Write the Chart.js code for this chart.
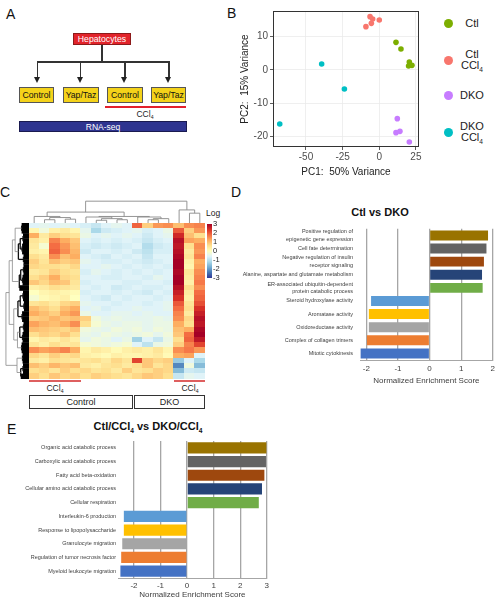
<!DOCTYPE html>
<html>
<head>
<meta charset="utf-8">
<script src="https://cdn.jsdelivr.net/npm/chart.js@4.4.1/dist/chart.umd.min.js"></script>
<style>
  body { margin: 0; background: #fff; }
  #page { position: relative; width: 499px; height: 600px; overflow: hidden; font-family: "Liberation Sans", Arial, sans-serif; color: #222; }
  .abs { position: absolute; }
  .letter { position: absolute; font-size: 14px; line-height: 14px; color: #111; }
  canvas { position: absolute; }
  .box { position: absolute; box-sizing: border-box; display: flex; align-items: center; justify-content: center; white-space: nowrap; }
  .ln { position: absolute; background: #333; }
  .head { position: absolute; width: 0; height: 0; border-left: 3.5px solid transparent; border-right: 3.5px solid transparent; border-top: 6px solid #222; }
  .ybox { top: 87px; height: 16px; background: #f4d21a; border: 1px solid #555; font-size: 8.7px; color: #111; }
  sub { font-size: 0.6em; vertical-align: -0.4em; line-height: 0; }
  .leg-dot { position: absolute; width: 9px; height: 9px; border-radius: 50%; }
  .leg-txt { position: absolute; left: 452px; width: 40px; text-align: center; font-size: 11px; line-height: 10.5px; color: #222; }
  .title { position: absolute; text-align: center; font-weight: bold; font-size: 11px; color: #111; }
</style>
</head>
<body>
<div id="page">
  <!-- A: experiment layout -->
  <div class="letter" style="left:6px;top:7px">A</div>
  <div class="box" style="left:73px;top:33px;width:58px;height:12px;background:#e2242b;border:1px solid #8c1a1a;color:#fff;font-size:8.7px">Hepatocytes</div>
  <div class="ln" style="left:101.3px;top:45px;width:1.5px;height:17px"></div>
  <div class="ln" style="left:36.5px;top:61px;width:133px;height:1.5px"></div>
  <div class="ln" style="left:36.5px;top:62px;width:1.5px;height:16px"></div>
  <div class="ln" style="left:79.5px;top:62px;width:1.5px;height:16px"></div>
  <div class="ln" style="left:124px;top:62px;width:1.5px;height:16px"></div>
  <div class="ln" style="left:168px;top:62px;width:1.5px;height:16px"></div>
  <div class="head" style="left:33.7px;top:77px"></div>
  <div class="head" style="left:76.7px;top:77px"></div>
  <div class="head" style="left:121.2px;top:77px"></div>
  <div class="head" style="left:165.2px;top:77px"></div>
  <div class="box ybox" style="left:19px;width:35px">Control</div>
  <div class="box ybox" style="left:63px;width:36px">Yap/Taz</div>
  <div class="box ybox" style="left:107px;width:36px">Control</div>
  <div class="box ybox" style="left:151px;width:35px">Yap/Taz</div>
  <div class="abs" style="left:105px;top:106px;width:81px;height:2px;background:#e3202c"></div>
  <div class="abs" style="left:130px;top:109px;width:30px;text-align:center;font-size:8.5px">CCl<sub>4</sub></div>
  <div class="box" style="left:19px;top:121px;width:168px;height:11px;background:#2e3490;border:1px solid #1a1a50;color:#fff;font-size:8.5px">RNA-seq</div>

  <!-- B: PCA -->
  <div class="letter" style="left:227px;top:6px">B</div>
  <canvas id="pca" width="195" height="180" style="left:230px;top:0px"></canvas>
  <div class="leg-dot" style="left:443.5px;top:18.5px;background:#7cae00"></div>
  <div class="leg-txt" style="top:18px">Ctl</div>
  <div class="leg-dot" style="left:443.5px;top:55.5px;background:#f8766d"></div>
  <div class="leg-txt" style="top:49px">Ctl<br>CCl<sub>4</sub></div>
  <div class="leg-dot" style="left:443.5px;top:90.5px;background:#c77cff"></div>
  <div class="leg-txt" style="top:90px">DKO</div>
  <div class="leg-dot" style="left:443.5px;top:127.5px;background:#00bfc4"></div>
  <div class="leg-txt" style="top:121px">DKO<br>CCl<sub>4</sub></div>

  <!-- C: heatmap -->
  <div class="letter" style="left:0px;top:185px">C</div>
  <canvas id="colTree" width="176" height="24" style="left:29px;top:199px"></canvas>
  <canvas id="rowTree" width="24" height="156" style="left:5px;top:223px"></canvas>
  <canvas id="heat" width="176" height="156" style="left:29px;top:223px"></canvas>
  <canvas id="scaleBar" width="20" height="66" style="left:207px;top:218px"></canvas>
  <div class="abs" style="left:206px;top:208px;font-size:8.5px">Log</div>
  <div class="abs" style="left:29px;top:380px;width:52px;height:2px;background:#de5f5f"></div>
  <div class="abs" style="left:174px;top:380px;width:31px;height:2px;background:#de5f5f"></div>
  <div class="abs" style="left:40px;top:383px;width:30px;text-align:center;font-size:8.5px">CCl<sub>4</sub></div>
  <div class="abs" style="left:175px;top:383px;width:30px;text-align:center;font-size:8.5px">CCl<sub>4</sub></div>
  <div class="box" style="left:29px;top:395px;width:104px;height:14px;border:1.3px solid #333;font-size:9px">Control</div>
  <div class="box" style="left:134px;top:395px;width:71px;height:14px;border:1.3px solid #333;font-size:9px">DKO</div>

  <!-- D -->
  <div class="letter" style="left:231px;top:185px">D</div>
  <div class="title" style="left:330px;top:206px;width:100px">Ctl vs DKO</div>
  <canvas id="gseaD" width="259" height="172" style="left:240px;top:218px"></canvas>

  <!-- E -->
  <div class="letter" style="left:7px;top:422px">E</div>
  <div class="title" style="left:68px;top:420px;width:160px">Ctl/CCl<sub>4</sub> vs DKO/CCl<sub>4</sub></div>
  <canvas id="gseaE" width="272" height="166" style="left:0px;top:434px"></canvas>
</div>

<script>
// ---------- B: PCA scores ----------
const pcaGroups = ['Ctl', 'Ctl CCl4', 'DKO', 'DKO CCl4'];
const ctlPC1 = [11.4, 14.8, 20.5, 20.0, 22.3];
const ctlPC2 = [8.3, 6.3, 2.4, 1.2, 1.4];
const ctlCclPC1 = [-9.1, -6.3, -4.5, -5.4, 0.0];
const ctlCclPC2 = [13.0, 16.0, 15.3, 14.0, 15.0];
const dkoPC1 = [12.3, 11.4, 14.1, 20.5];
const dkoPC2 = [-14.6, -18.8, -18.4, -21.6];
const dkoCclPC1 = [-39.3, -23.8, -67.9];
const dkoCclPC2 = [1.8, -5.7, -16.2];
const pc1Ticks = [-50, -25, 0, 25];
const pc2Ticks = [-20, -10, 0, 10];

// ---------- C: heatmap (rows top to bottom, 17 samples) ----------
// samples: 5 Ctl CCl4, 5 Ctl, 4 DKO, 3 DKO CCl4
const heatRows = [
  [-0.6,-0.5,-0.6,-0.5,-0.6, -0.7,-0.9,-0.6,-0.5,-0.6,  1.9, 0.8, 1.4, 1.5,  1.0, 1.5, 1.6],
  [ 0.2,-0.3, 0.3, 0.4, 0.2, -0.5,-1.2,-0.8,-0.7,-0.6, -0.5,-0.7,-0.6,-0.4,  2.0, 0.8, 1.4],
  [ 1.2, 0.4, 0.8, 0.6, 0.5, -0.4,-0.6,-0.5,-0.6,-0.5, -0.6,-0.8,-0.6,-0.5,  2.5, 1.0, 0.6],
  [ 0.5, 0.3, 1.6, 1.2, 0.9, -0.6,-0.7,-0.6,-0.7,-0.6, -0.7,-0.9,-0.7,-0.6,  2.8, 1.3, 1.2],
  [ 0.4,-0.2, 1.8, 1.4, 1.0, -0.7,-0.8,-0.7,-0.8,-0.7, -0.6,-1.1,-0.8,-0.7,  2.7, 0.6, 1.5],
  [ 0.3, 0.2, 1.9, 1.5, 1.1, -0.8,-0.6,-0.6,-0.7,-0.6, -0.8,-1.0,-0.7,-0.7,  2.8, 0.4, 1.4],
  [ 0.6, 0.4, 1.5, 1.0, 1.2, -0.6,-0.7,-0.8,-0.6,-0.7, -0.6,-0.9,-0.6,-0.6,  2.9, 0.5, 1.6],
  [ 0.8, 0.5, 1.0, 0.8, 0.9, -0.5,-0.6,-0.7,-0.7,-0.6, -0.7,-0.8,-0.7,-0.6,  3.0, 0.3, 1.2],
  [ 0.7, 0.6, 0.6, 0.5, 0.7, -0.6,-0.6,-0.5,-0.6,-0.7, -0.6,-0.7,-0.6,-0.7,  3.0, 0.2, 1.3],
  [ 0.4, 0.5, 0.8, 0.6, 0.5, -0.7,-0.5,-0.6,-0.7,-0.6, -0.7,-0.6,-0.7,-0.6,  2.9, 0.5, 1.5],
  [ 0.6, 0.8, 1.2, 0.7, 0.6, -0.6,-0.6,-0.7,-0.7,-0.6, -0.6,-0.7,-0.5,-0.6,  3.0, 0.4, 1.6],
  [ 0.9, 0.7, 1.0, 0.9, 0.5, -0.7,-0.6,-0.6,-0.6,-0.7, -0.7,-0.6,-0.6,-0.7,  3.0, 0.3, 1.7],
  [ 0.3, 0.4, 0.6, 0.5, 0.4, -0.6,-0.7,-0.6,-0.8,-0.7, -0.6,-0.7,-0.7,-0.6,  2.8, 0.6, 1.5],
  [ 0.0, 0.2, 0.3, 0.2, 0.1, -0.7,-0.6,-0.6,-0.7,-0.6, -0.7,-0.8,-0.6,-0.7,  2.6, 0.4, 1.8],
  [-0.2, 0.1, 0.2, 0.3, 0.0, -0.6,-0.7,-0.8,-0.6,-0.7, -0.6,-0.6,-0.7,-0.6,  2.4, 0.3, 1.9],
  [ 0.5, 0.6, 0.4, 0.7, 0.8, -0.5,-0.6,-0.6,-0.7,-0.6, -0.6,-0.7,-0.6,-0.5,  2.0, 0.5, 2.1],
  [ 1.0, 0.8, 0.6, 1.0, 1.2, -0.6,-0.5,-0.7,-0.6,-0.6, -0.5,-0.6,-0.6,-0.5,  1.8, 0.6, 2.4],
  [ 1.2, 1.0, 0.8, 1.2, 1.4, -0.4,-0.6,-0.6,-0.5,-0.5, -0.6,-0.5,-0.6,-0.6,  1.6, 0.4, 2.6],
  [ 0.8, 0.9, 1.1, 0.9, 1.0,  0.8,-0.3,-0.5,-0.4,-0.5, -0.5,-0.5,-0.4,-0.5,  1.5, 0.7, 2.8],
  [ 1.3, 1.1, 1.0, 1.2, 1.5,  0.6,-0.2,-0.4,-0.5,-0.4, -0.4,-0.5,-0.4,-0.4,  1.2, 0.6, 2.7],
  [ 1.0, 0.9, 0.8, 0.7, 0.9, -0.3,-0.4,-0.5,-0.3,-0.4, -0.3,-0.5,-0.3,-0.4,  1.0, 1.2, 2.9],
  [ 0.6, 0.8, 0.7, 0.9, 0.6, -0.4,-0.5,-0.3,-0.4,-0.5, -0.4,-0.3,-0.5,-0.3,  0.9, 1.8, 3.0],
  [ 0.2, 0.4, 0.3, 0.5, 0.3, -0.5,-0.3,-0.4,-0.6,-0.4, -1.3,-0.6,-0.9,-0.4,  0.6, 1.9, 2.7],
  [ 0.5, 0.3, 0.6, 0.4, 0.5, -0.2,-0.3,-0.4,-0.3,-0.2, -0.6,-1.0,-0.4,-0.3,  0.8, 1.6, 2.2],
  [ 1.5, 1.3, 1.4, 1.6, 1.2,  0.2, 0.4, 0.3, 0.1, 0.3,  0.4, 0.3, 0.5, 0.2,  1.5, 1.7, 1.4],
  [ 0.7, 0.5, 0.8, 0.6, 0.7,  0.3, 0.2, 0.1, 0.3, 0.2,  0.2, 0.3, 0.4, 0.1,  1.2, 1.3,-0.6],
  [ 0.4, 0.3, 0.6, 0.5, 0.4,  0.5, 0.6, 0.4, 0.7, 0.5,  2.2, 0.9, 0.7, 0.8, -1.4,-0.6,-1.2],
  [ 1.0, 0.8, 1.1, 0.9, 1.0,  0.4, 0.3, 0.5, 0.6, 0.4,  0.6, 0.9, 0.5, 0.7, -2.2,-0.3,-1.6],
  [ 0.6, 0.7, 0.5, 0.8, 0.6,  0.7, 0.5, 0.6, 0.4, 0.8,  0.5, 0.6, 0.8, 0.7, -1.6,-0.8,-0.9],
  [ 0.8, 0.6, 0.9, 0.7, 0.8,  0.6, 0.8, 0.7, 0.6, 0.5,  0.7, 0.9, 0.8, 0.6, -0.9,-0.5,-0.6]
];
const scaleTicks = [-3, -2, -1, 0, 1, 2, 3];
// dendrogram merges: [childA, childB, height]; leaves are 0..n-1, merge k gets id n+k
const colMerges = [
  [1, 2, 0.6], [3, 4, 0.7], [17, 18, 1.0], [0, 19, 1.2],
  [6, 7, 0.5], [8, 9, 0.6], [21, 22, 0.8], [5, 23, 1.1],
  [11, 12, 0.6], [13, 25, 0.8], [10, 26, 1.1], [24, 27, 1.2],
  [20, 28, 2.0], [15, 16, 1.8], [14, 30, 2.4], [29, 31, 4.0]
];
const rowMerges = [
  [0, 1, 1.6], [2, 3, 1.3], [4, 5, 1.5], [6, 7, 1.2], [31, 32, 1.9], [34, 33, 2.3], [30, 35, 3.0],
  [8, 9, 1.2], [10, 11, 1.4], [37, 38, 1.8], [39, 12, 2.1], [36, 40, 3.6],
  [13, 14, 1.3], [15, 16, 1.1], [17, 18, 1.5], [42, 43, 1.9], [45, 44, 2.4],
  [19, 20, 1.2], [21, 22, 1.4], [23, 24, 1.6], [47, 48, 2.0], [50, 49, 2.5], [46, 51, 3.3],
  [41, 52, 4.3], [25, 26, 1.4], [27, 28, 1.3], [55, 29, 1.8], [54, 56, 2.6], [53, 57, 5.0]
];

// ---------- D / E: GSEA normalized enrichment scores ----------
const dTerms = [
  ['Positive regulation of', 'epigenetic gene expression'],
  'Cell fate determination',
  ['Negative regulation of insulin', 'receptor signaling'],
  'Alanine, aspartate and glutamate metabolism',
  ['ER-associated ubiquitin-dependent', 'protein catabolic process'],
  'Steroid hydroxylase activity',
  'Aromatase activity',
  'Oxidoreductase activity',
  'Complex of collagen trimers',
  'Mitotic cytokinesis'
];
const dScores = [1.85, 1.8, 1.72, 1.66, 1.68, -1.85, -1.92, -1.92, -1.98, -2.18];
const dTicks = [-2, -1, 0, 1, 2];

const eTerms = [
  'Organic acid catabolic process',
  'Carboxylic acid catabolic process',
  'Fatty acid beta-oxidation',
  'Cellular amino acid catabolic process',
  'Cellular respiration',
  'Interleukin-6 production',
  'Response to lipopolysaccharide',
  'Granulocyte migration',
  'Regulation of tumor necrosis factor',
  'Myeloid leukocyte migration'
];
const eScores = [2.99, 2.97, 2.91, 2.82, 2.7, -2.38, -2.38, -2.44, -2.48, -2.51];
const eTicks = [-2, -1, 0, 1, 2, 3];

const barColors = ['#997300', '#636363', '#9e480e', '#264478', '#70ad47',
                   '#5b9bd5', '#ffc000', '#a5a5a5', '#ed7d31', '#4472c4'];
const heatPalette = ['#313695', '#4575b4', '#74add1', '#abd9e9', '#e0f3f8', '#ffffbf',
                     '#fee090', '#fdae61', '#f46d43', '#d73027', '#a50026'];

const FONT = '"Liberation Sans", Arial, sans-serif';
Chart.defaults.font.family = FONT;
Chart.defaults.animation = false;
Chart.defaults.responsive = false;
Chart.defaults.plugins.legend.display = false;
Chart.defaults.plugins.tooltip.enabled = false;

function hexToRgb(h) {
  return [parseInt(h.slice(1, 3), 16), parseInt(h.slice(3, 5), 16), parseInt(h.slice(5, 7), 16)];
}
function heatColor(v) {
  const n = heatPalette.length - 1;
  const t = (Math.max(-3, Math.min(3, v)) + 3) / 6 * n;
  const i = Math.min(n - 1, Math.floor(t));
  const f = t - i;
  const a = hexToRgb(heatPalette[i]), b = hexToRgb(heatPalette[i + 1]);
  return 'rgb(' + a.map((c, k) => Math.round(c + (b[k] - c) * f)).join(',') + ')';
}

// hidden scales, chart area = whole canvas
function bareScale(min, max, reverse) {
  return { type: 'linear', min: min, max: max, reverse: !!reverse, display: false };
}

// ---------- B ----------
const frameBox = {
  id: 'frameBox',
  afterDatasetsDraw(chart) {
    const a = chart.chartArea, ctx = chart.ctx;
    ctx.save();
    ctx.strokeStyle = '#333';
    ctx.lineWidth = 1;
    ctx.strokeRect(a.left + 0.5, a.top + 0.5, a.right - a.left - 1, a.bottom - a.top - 1);
    ctx.restore();
  }
};
function toPoints(xs, ys) { return xs.map((x, i) => ({ x: x, y: ys[i] })); }
const pcaColors = ['#7cae00', '#f8766d', '#c77cff', '#00bfc4'];

new Chart(document.getElementById('pca'), {
  type: 'scatter',
  data: {
    datasets: [
      { label: pcaGroups[0], data: toPoints(ctlPC1, ctlPC2) },
      { label: pcaGroups[1], data: toPoints(ctlCclPC1, ctlCclPC2) },
      { label: pcaGroups[2], data: toPoints(dkoPC1, dkoPC2) },
      { label: pcaGroups[3], data: toPoints(dkoCclPC1, dkoCclPC2) }
    ].map((d, i) => Object.assign(d, {
      backgroundColor: pcaColors[i], borderWidth: 0, pointRadius: 2.8
    }))
  },
  options: {
    layout: { padding: { top: 11, right: 6, left: 0, bottom: 0 } },
    scales: {
      x: {
        min: -72.5, max: 27.1,
        afterBuildTicks: s => { s.ticks = pc1Ticks.map(v => ({ value: v })); },
        grid: { color: '#ebebeb', lineWidth: 0.8, tickLength: 3, tickColor: '#333' },
        border: { display: false },
        ticks: { color: '#4d4d4d', font: { size: 10 }, padding: 1 },
        title: { display: true, text: 'PC1:  50% Variance', color: '#222', font: { size: 10 }, padding: { top: 0, bottom: 2 } },
        afterFit: s => { s.height = 33; }
      },
      y: {
        min: -23.1, max: 17.7,
        afterBuildTicks: s => { s.ticks = pc2Ticks.map(v => ({ value: v })); },
        grid: { color: '#ebebeb', lineWidth: 0.8, tickLength: 3, tickColor: '#333' },
        border: { display: false },
        ticks: { color: '#4d4d4d', font: { size: 10 }, padding: 2 },
        title: { display: true, text: 'PC2:  15% Variance', color: '#222', font: { size: 10 }, padding: { top: 9, bottom: 0 } },
        afterFit: s => { s.width = 43; }
      }
    }
  },
  plugins: [frameBox]
});

// ---------- C ----------
const heatCells = {
  id: 'heatCells',
  beforeDatasetsDraw(chart) {
    const ctx = chart.ctx, xs = chart.scales.x, ys = chart.scales.y;
    heatRows.forEach((row, r) => {
      const y0 = ys.getPixelForValue(r), y1 = ys.getPixelForValue(r + 1);
      row.forEach((v, c) => {
        const x0 = xs.getPixelForValue(c), x1 = xs.getPixelForValue(c + 1);
        ctx.fillStyle = heatColor(v);
        ctx.fillRect(Math.floor(x0), Math.floor(y0), Math.ceil(x1 - x0) + 1, Math.ceil(y1 - y0) + 1);
      });
    });
  }
};
new Chart(document.getElementById('heat'), {
  type: 'scatter',
  data: { datasets: [] },
  options: {
    layout: { padding: 0 },
    scales: { x: bareScale(0, heatRows[0].length), y: bareScale(0, heatRows.length, true) }
  },
  plugins: [heatCells]
});

function treeNodes(nLeaves, merges) {
  const pos = [], ht = [];
  for (let i = 0; i < nLeaves; i++) { pos.push(i + 0.5); ht.push(0); }
  merges.forEach(m => { pos.push((pos[m[0]] + pos[m[1]]) / 2); ht.push(m[2]); });
  return { pos, ht };
}
// alongX=true: leaves along x (column tree); else leaves along y (row tree)
function treePlugin(nLeaves, merges, alongX, styleFor) {
  return {
    id: 'tree',
    afterDatasetsDraw(chart) {
      const ctx = chart.ctx, xs = chart.scales.x, ys = chart.scales.y;
      const t = treeNodes(nLeaves, merges);
      const pt = (p, h) => alongX ? [xs.getPixelForValue(p), ys.getPixelForValue(h)]
                                  : [xs.getPixelForValue(h), ys.getPixelForValue(p)];
      const leafPx = alongX ? Math.abs(xs.getPixelForValue(1) - xs.getPixelForValue(0))
                            : Math.abs(ys.getPixelForValue(1) - ys.getPixelForValue(0));
      ctx.save();
      merges.forEach(m => {
        const [a, b, h] = m;
        [a, b].forEach(ch => {
          const st = styleFor(h, t.ht[ch] === 0, leafPx);
          ctx.strokeStyle = st.color;
          ctx.lineWidth = st.width;
          ctx.beginPath();
          let q = pt(t.pos[ch], t.ht[ch]); ctx.moveTo(q[0], q[1]);
          q = pt(t.pos[ch], h); ctx.lineTo(q[0], q[1]);
          ctx.stroke();
        });
        const st = styleFor(h, false, leafPx);
        ctx.strokeStyle = st.color;
        ctx.lineWidth = st.width;
        ctx.beginPath();
        let q = pt(t.pos[a], h); ctx.moveTo(q[0], q[1]);
        q = pt(t.pos[b], h); ctx.lineTo(q[0], q[1]);
        ctx.stroke();
      });
      ctx.restore();
    }
  };
}
new Chart(document.getElementById('colTree'), {
  type: 'scatter',
  data: { datasets: [] },
  options: { layout: { padding: 0 }, scales: { x: bareScale(0, heatRows[0].length), y: bareScale(0, 4.4) } },
  plugins: [treePlugin(heatRows[0].length, colMerges, true, () => ({ color: '#8a8a8a', width: 0.9 }))]
});
new Chart(document.getElementById('rowTree'), {
  type: 'scatter',
  data: { datasets: [] },
  options: { layout: { padding: 0 }, scales: { x: bareScale(0, 5.2, true), y: bareScale(0, heatRows.length, true) } },
  plugins: [treePlugin(heatRows.length, rowMerges, false,
    (h, isLeaf, px) => isLeaf ? { color: '#000', width: px + 0.4 }
                     : h <= 2.4 ? { color: '#111', width: 1.3 } : { color: '#8a8a8a', width: 0.8 })]
});

const colorRamp = {
  id: 'colorRamp',
  beforeDatasetsDraw(chart) {
    const ctx = chart.ctx, a = chart.chartArea, ys = chart.scales.y;
    const yTop = ys.getPixelForValue(scaleTicks[scaleTicks.length - 1]);
    const yBot = ys.getPixelForValue(scaleTicks[0]);
    const g = ctx.createLinearGradient(0, yBot, 0, yTop);
    heatPalette.forEach((c, i) => g.addColorStop(i / (heatPalette.length - 1), c));
    ctx.fillStyle = g;
    ctx.fillRect(a.left, yTop, a.right - a.left, yBot - yTop);
  }
};
new Chart(document.getElementById('scaleBar'), {
  type: 'scatter',
  data: { datasets: [] },
  options: {
    layout: { padding: { top: 6, bottom: 6, left: 0, right: 0 } },
    scales: {
      x: bareScale(0, 1),
      y: {
        position: 'right', min: -3, max: 3,
        afterBuildTicks: s => { s.ticks = scaleTicks.map(v => ({ value: v })); },
        grid: { display: false, drawTicks: false }, border: { display: false },
        ticks: { color: '#222', font: { size: 7.5 }, padding: 1, autoSkip: false },
        afterFit: s => { s.width = 15; }
      }
    }
  },
  plugins: [colorRamp]
});

// ---------- D / E ----------
function gseaChart(id, terms, scores, ticks, xMin, xMax, o) {
  return new Chart(document.getElementById(id), {
    type: 'bar',
    data: {
      labels: terms,
      datasets: [{ data: scores, backgroundColor: barColors, barPercentage: o.barPct, categoryPercentage: 1 }]
    },
    options: {
      indexAxis: 'y',
      layout: { padding: { top: o.top, right: o.right, left: 0, bottom: 0 } },
      scales: {
        x: {
          min: xMin, max: xMax,
          afterBuildTicks: s => { s.ticks = ticks.map(v => ({ value: v })); },
          grid: { color: '#a6a6a6', lineWidth: 1.3, drawTicks: false },
          border: { display: true, color: '#a6a6a6', width: 1 },
          ticks: { color: '#404040', font: { size: 8 }, padding: o.tickPad },
          title: { display: true, text: 'Normalized Enrichment Score', color: '#404040', font: { size: 8 }, padding: { top: 0, bottom: o.titlePad } },
          afterFit: s => { s.height = o.xh; }
        },
        y: {
          grid: { display: false, drawTicks: false }, border: { display: false },
          ticks: { color: '#404040', font: { size: 5.5, lineHeight: 1.4 }, padding: o.labelPad, autoSkip: false },
          afterFit: s => { s.width = o.yw; }
        }
      }
    }
  });
}
gseaChart('gseaD', dTerms, dScores, dTicks, -2.2, 2,
  { barPct: 0.76, top: 7, right: 4, tickPad: 4, titlePad: 4, xh: 30, yw: 120, labelPad: 7 });
gseaChart('gseaE', eTerms, eScores, eTicks, -2.6, 3,
  { barPct: 0.82, top: 7, right: 5, tickPad: 3, titlePad: 0, xh: 22, yw: 118, labelPad: 2 });
</script>
</body>
</html>
